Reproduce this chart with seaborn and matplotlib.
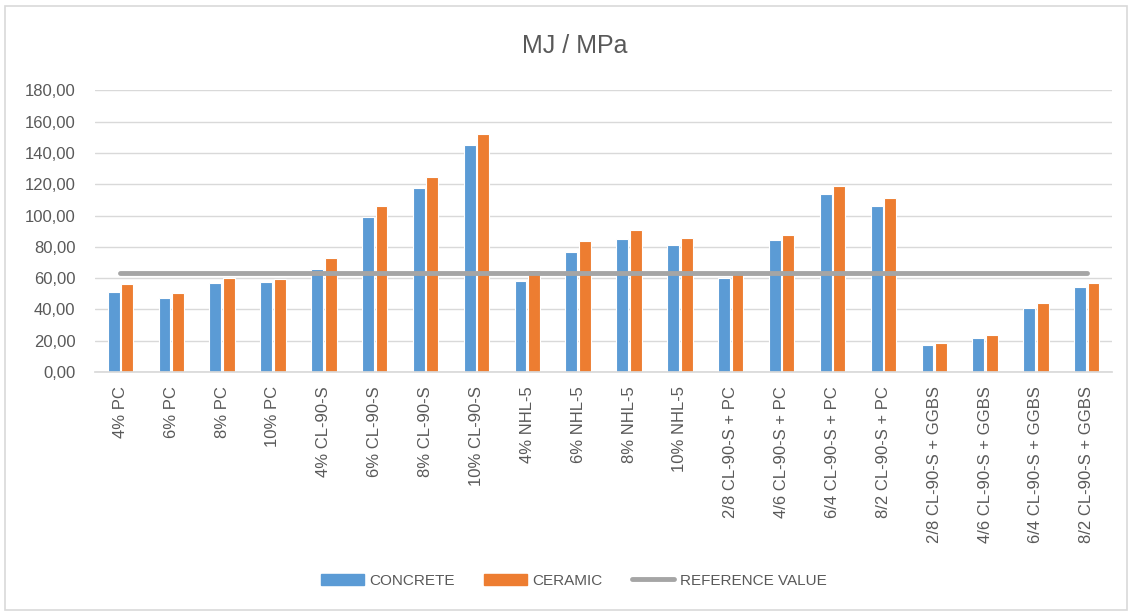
import matplotlib
matplotlib.use("Agg")
import matplotlib.pyplot as plt
from matplotlib.patches import Rectangle, Patch
from matplotlib.lines import Line2D
from matplotlib.ticker import FuncFormatter
import seaborn as sns
import pandas as pd

categories = [
    "4% PC", "6% PC", "8% PC", "10% PC",
    "4% CL-90-S", "6% CL-90-S", "8% CL-90-S", "10% CL-90-S",
    "4% NHL-5", "6% NHL-5", "8% NHL-5", "10% NHL-5",
    "2/8 CL-90-S + PC", "4/6 CL-90-S + PC", "6/4 CL-90-S + PC", "8/2 CL-90-S + PC",
    "2/8 CL-90-S + GGBS", "4/6 CL-90-S + GGBS", "6/4 CL-90-S + GGBS", "8/2 CL-90-S + GGBS",
]

concrete = [51.1, 47.5, 56.9, 57.5, 65.8, 99.0, 117.4, 144.9, 58.0, 76.5, 84.8, 81.4,
            60.1, 84.2, 113.7, 106.1, 17.3, 21.5, 41.1, 54.1]
ceramic = [56.0, 50.5, 60.3, 59.6, 72.8, 106.0, 124.4, 152.1, 65.2, 83.5, 90.5, 85.6,
           62.5, 87.7, 118.8, 111.2, 18.5, 23.6, 44.1, 56.9]
reference_value = 63.3

series_names = ["CONCRETE", "CERAMIC"]
reference_name = "REFERENCE VALUE"
colors = ["#5B9BD5", "#ED7D31"]
ref_color = "#A5A5A5"
text_color = "#595959"
grid_color = "#D9D9D9"

df = pd.DataFrame({
    "category": categories * 2,
    "value": concrete + ceramic,
    "series": [series_names[0]] * len(categories) + [series_names[1]] * len(categories),
})

sns.set_theme(style="white")
plt.rcParams["font.family"] = ["Liberation Sans", "DejaVu Sans"]

fig = plt.figure(figsize=(11.32, 6.12), dpi=100)
ax = fig.add_axes([0.0839, 0.392, 0.9825 - 0.0839, 0.8525 - 0.392])

sns.barplot(data=df, x="category", y="value", hue="series", order=categories,
            hue_order=series_names, palette=colors, saturation=1, width=0.53, gap=0.12,
            edgecolor="white", linewidth=0.8, ax=ax, legend=False)

# reference line across all categories
xs = list(range(len(categories)))
ax.plot(xs, [reference_value] * len(categories), color=ref_color, lw=3.5,
        solid_capstyle="round", zorder=3)

ax.set_ylim(0, 180)
ax.set_xlim(-0.5, len(categories) - 0.5)
ax.set_yticks(range(0, 181, 20))
ax.yaxis.set_major_formatter(FuncFormatter(lambda v, p: f"{v:.2f}".replace(".", ",")))
ax.grid(axis="y", color=grid_color, lw=1)
ax.set_axisbelow(True)
for side in ["left", "right", "top"]:
    ax.spines[side].set_visible(False)
ax.spines["bottom"].set_color(grid_color)
ax.tick_params(axis="y", length=0, labelsize=12, labelcolor=text_color, pad=14)
ax.tick_params(axis="x", length=0, labelsize=12, labelcolor=text_color, pad=10)
ax.set_xticks(xs)
ax.set_xticklabels(categories, rotation=90, va="top", ha="center")
ax.set_xlabel("")
ax.set_ylabel("")

fig.text(0.508, 0.925, "MJ / MPa", ha="center", va="center", fontsize=18, color=text_color)

# legend
handles = [Patch(color=colors[0]), Patch(color=colors[1]),
           Line2D([0], [0], color=ref_color, lw=3.5)]
leg = fig.legend(handles, series_names + [reference_name], loc="center",
                 bbox_to_anchor=(0.507, 0.051), ncol=3, frameon=False,
                 fontsize=11, handlelength=2.8, handleheight=0.75, columnspacing=1.9,
                 handletextpad=0.35)
for t in leg.get_texts():
    t.set_color(text_color)

fig.patches.append(Rectangle((0.004, 0.004), 0.992, 0.986, transform=fig.transFigure,
                             fill=False, edgecolor=grid_color, lw=1.2))

fig.savefig("out.png", dpi=100)
